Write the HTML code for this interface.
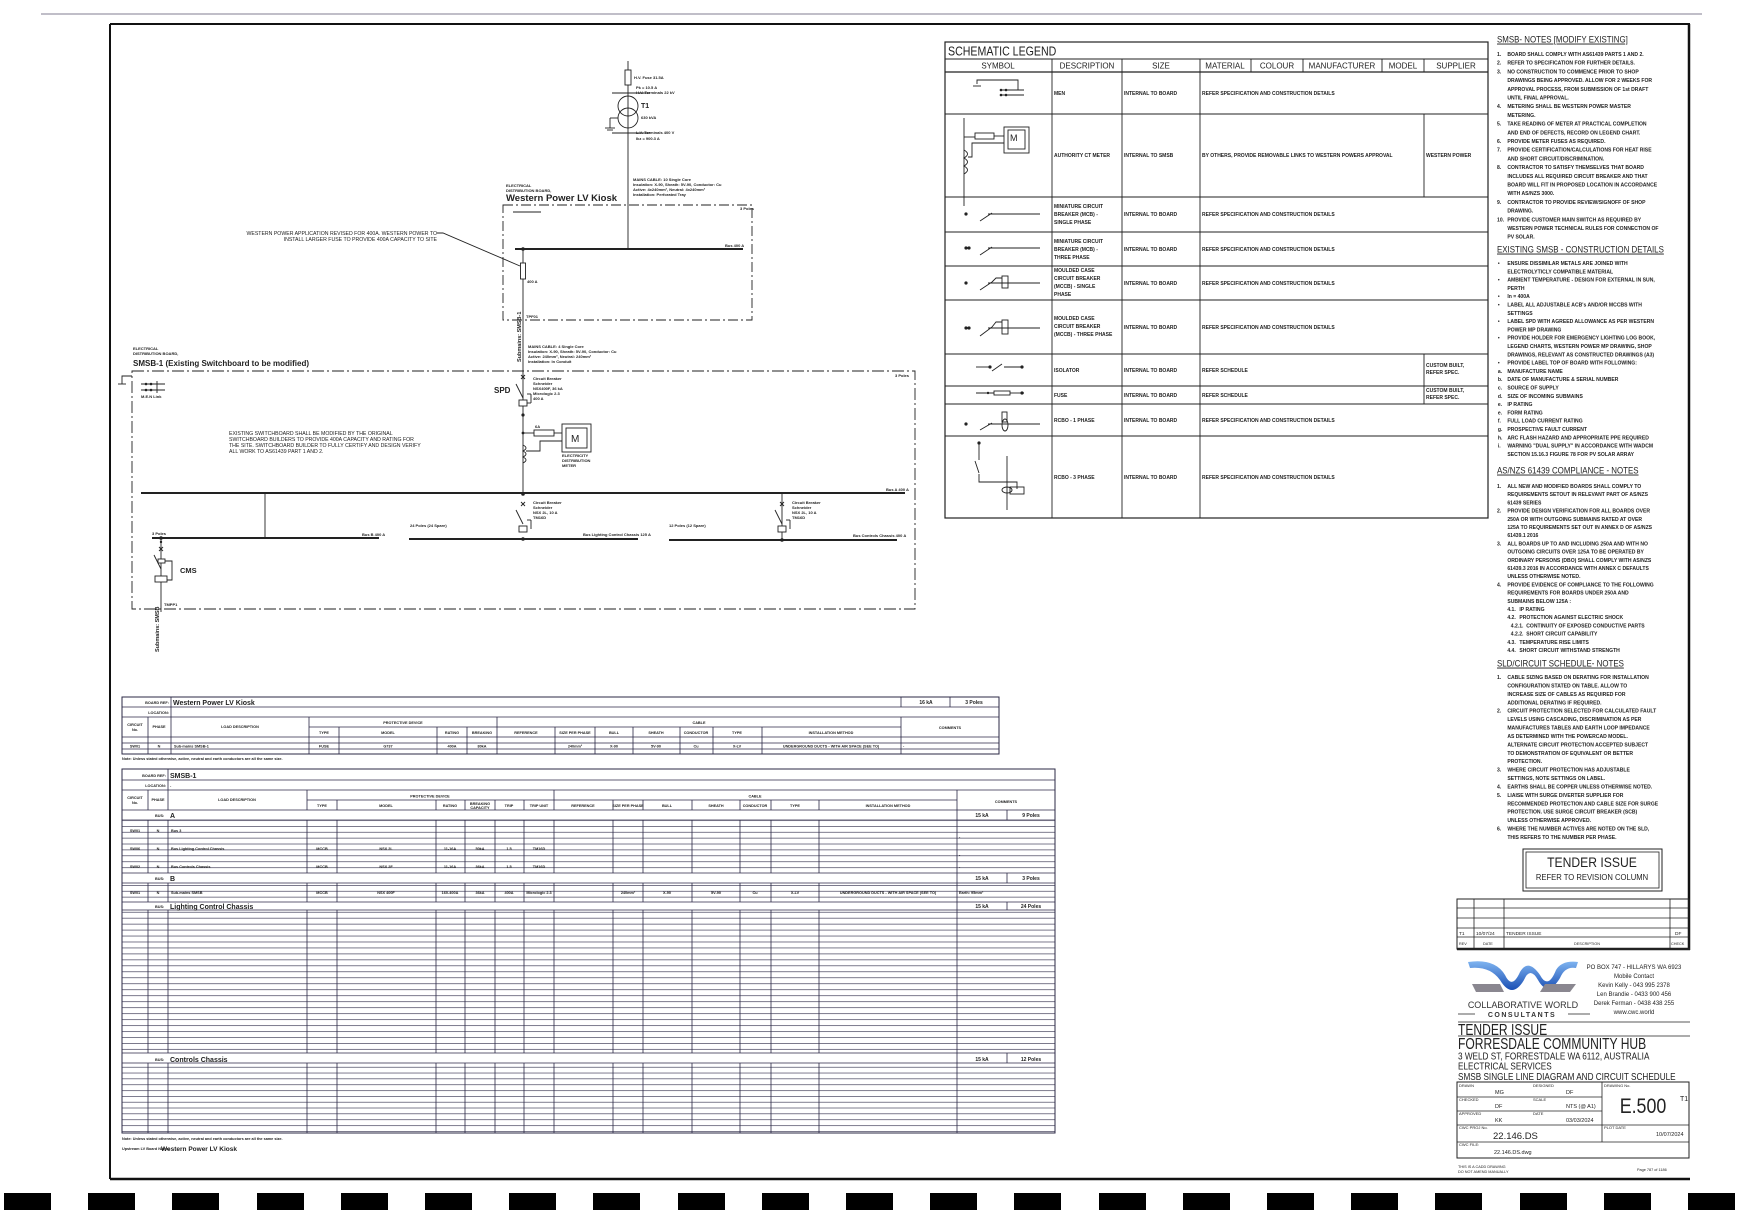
<!DOCTYPE html>
<html><head><meta charset="utf-8">
<style>
html,body{margin:0;padding:0;background:#fff;}
svg{display:block;font-family:"Liberation Sans",sans-serif;}
</style></head>
<body>
<svg width="1742" height="1219" viewBox="0 0 1742 1219" xmlns="http://www.w3.org/2000/svg">
<defs>
<pattern id="rA" patternUnits="userSpaceOnUse" width="1742" height="5.9" y="0">
<line x1="0" y1="0.3" x2="1742" y2="0.3" stroke="#2b2846" stroke-width="0.7"/>
</pattern>
<pattern id="rL" patternUnits="userSpaceOnUse" width="1742" height="5.96" y="0">
<line x1="0" y1="0.3" x2="1742" y2="0.3" stroke="#2b2846" stroke-width="0.7"/>
<rect x="31" y="1.8" width="3" height="2.6" fill="#555"/>
<rect x="50" y="1.8" width="9" height="2.6" fill="#666"/>
</pattern>
<pattern id="rC" patternUnits="userSpaceOnUse" width="1742" height="5.83" y="0">
<line x1="0" y1="0.3" x2="1742" y2="0.3" stroke="#2b2846" stroke-width="0.7"/>
<rect x="31" y="1.8" width="3" height="2.5" fill="#555"/>
<rect x="50" y="1.8" width="9" height="2.5" fill="#666"/>
</pattern>
<linearGradient id="lg" x1="0" y1="0" x2="0" y2="1"><stop offset="0" stop-color="#7fb4f0"/><stop offset="1" stop-color="#1a4fb5"/></linearGradient>
</defs>

<line x1="41" y1="14" x2="1702" y2="14" stroke="#9a98a8" stroke-width="1.2"/>

<g stroke="#111" fill="none">
<line x1="110" y1="24" x2="1690" y2="24" stroke-width="2"/>
<line x1="110" y1="24" x2="110" y2="1179" stroke-width="2"/>
<line x1="1689" y1="24" x2="1689" y2="950" stroke-width="2.5"/>
<line x1="110" y1="1179" x2="1690" y2="1179" stroke-width="2.5"/>
</g>

<g fill="#000">
<rect x="4" y="1193" width="47" height="17"/><rect x="88" y="1193" width="47" height="17"/><rect x="172" y="1193" width="47" height="17"/><rect x="257" y="1193" width="47" height="17"/><rect x="341" y="1193" width="47" height="17"/><rect x="425" y="1193" width="47" height="17"/><rect x="509" y="1193" width="47" height="17"/><rect x="593" y="1193" width="47" height="17"/><rect x="678" y="1193" width="47" height="17"/><rect x="762" y="1193" width="47" height="17"/><rect x="846" y="1193" width="47" height="17"/><rect x="930" y="1193" width="47" height="17"/><rect x="1014" y="1193" width="47" height="17"/><rect x="1099" y="1193" width="47" height="17"/><rect x="1183" y="1193" width="47" height="17"/><rect x="1267" y="1193" width="47" height="17"/><rect x="1351" y="1193" width="47" height="17"/><rect x="1435" y="1193" width="47" height="17"/><rect x="1520" y="1193" width="47" height="17"/><rect x="1604" y="1193" width="47" height="17"/><rect x="1688" y="1193" width="47" height="17"/>
</g>

<!-- SLD -->
<g stroke="#222" fill="none" stroke-width="0.9">
<line x1="628" y1="61" x2="628" y2="249"/>
<rect x="625" y="70" width="6" height="15" fill="#fff"/>
<line x1="612" y1="93" x2="650" y2="93"/>
<circle cx="628" cy="106" r="10" fill="none"/>
<circle cx="628" cy="118" r="10" fill="none"/>
<line x1="618" y1="118" x2="610" y2="118"/><line x1="610" y1="118" x2="610" y2="128"/>
<line x1="605" y1="128" x2="615" y2="128"/><line x1="607" y1="130" x2="613" y2="130"/>
<line x1="612" y1="133" x2="650" y2="133"/>
<rect x="503" y="205" width="249" height="115" stroke-dasharray="10 3 2 3"/>
<line x1="515" y1="249" x2="743" y2="249" stroke-width="2"/>
<line x1="513" y1="212" x2="541" y2="212"/>
<line x1="523" y1="249" x2="523" y2="494"/>
<rect x="520.5" y="263" width="5" height="16" fill="#fff"/>
<polyline points="437,233 443,233 520,266"/>
<rect x="132" y="371" width="783" height="238" stroke-dasharray="12 3 2 3"/>
<line x1="141" y1="493" x2="905" y2="493" stroke-width="2"/>
<line x1="265" y1="493" x2="265" y2="538"/>
<line x1="152" y1="538" x2="379" y2="538" stroke-width="2"/>
<line x1="409" y1="539" x2="638" y2="539" stroke-width="2"/>
<line x1="669" y1="540" x2="897" y2="540" stroke-width="2"/>
<line x1="521" y1="375" x2="525" y2="379"/><line x1="525" y1="375" x2="521" y2="379"/>
<line x1="516" y1="384" x2="523" y2="398"/>
<rect x="519" y="400" width="8" height="6" fill="#fff"/>
<line x1="527" y1="394" x2="531" y2="394"/><line x1="531" y1="394" x2="531" y2="403"/><line x1="531" y1="403" x2="527" y2="403"/>
<line x1="523" y1="433" x2="534" y2="433"/>
<rect x="534" y="430" width="20" height="6" fill="#fff"/>
<line x1="554" y1="433" x2="562" y2="433"/>
<rect x="562" y="424" width="29" height="28"/>
<rect x="566" y="428" width="21" height="20"/>
<path d="M523 445 q6 3 0 6 q6 3 0 6 q6 3 0 6"/>
<polyline points="526,451 540,451 540,441 562,441"/>
<line x1="521" y1="502" x2="525" y2="506"/><line x1="525" y1="502" x2="521" y2="506"/>
<line x1="516" y1="510" x2="523" y2="524"/>
<rect x="519" y="526" width="8" height="6" fill="#fff"/>
<line x1="527" y1="520" x2="531" y2="520"/><line x1="531" y1="520" x2="531" y2="529"/>
<line x1="782" y1="493" x2="782" y2="540"/>
<line x1="780" y1="502" x2="784" y2="506"/><line x1="784" y1="502" x2="780" y2="506"/>
<line x1="775" y1="510" x2="782" y2="524"/>
<rect x="778" y="526" width="8" height="6" fill="#fff"/>
<line x1="786" y1="520" x2="790" y2="520"/><line x1="790" y1="520" x2="790" y2="529"/>
<line x1="161" y1="538" x2="161" y2="612"/>
<line x1="159" y1="547" x2="163" y2="551"/><line x1="163" y1="547" x2="159" y2="551"/>
<line x1="154" y1="555" x2="161" y2="569"/>
<rect x="158" y="559" width="7" height="4" fill="#fff"/>
<rect x="155" y="576" width="12" height="6" fill="#fff"/>
<polyline points="165,561 172,561 172,580 167,580"/>
<polyline points="132,376 122,376 122,384"/>
<line x1="118" y1="384" x2="126" y2="384"/>
<line x1="141" y1="384" x2="165" y2="384"/><line x1="141" y1="390" x2="165" y2="390"/>
<line x1="157" y1="381" x2="157" y2="393"/>
</g>
<g fill="#222">
<circle cx="523" cy="249" r="1.8"/><circle cx="523" cy="494" r="1.8"/><circle cx="523" cy="539" r="1.8"/>
<circle cx="523" cy="415" r="1.6"/><circle cx="523" cy="433" r="1.4"/><circle cx="782" cy="540" r="1.8"/>
<circle cx="161" cy="538" r="1.8"/><circle cx="161" cy="542" r="1.2"/>
<circle cx="146" cy="384" r="1.3"/><circle cx="151" cy="384" r="1.3"/><circle cx="146" cy="390" r="1.3"/><circle cx="151" cy="390" r="1.3"/>
</g>
<g font-size="4" fill="#222" font-weight="bold">
<text x="634" y="79">H.V. Fuse 31.5A</text>
<text x="636" y="89">Pk = 10.5 A</text>
<text x="636" y="94">H.V. Terminals 22 kV</text>
<text x="641" y="108" font-size="7">T1</text>
<text x="641" y="119">630 kVA</text>
<text x="636" y="134">L.V. Terminals 400 V</text>
<text x="636" y="140">Ikz = 900.3 A</text>
<text x="633" y="181">MAINS CABLE: 10 Single Core</text>
<text x="633" y="186">Insulation: X-90, Sheath: 5V-90, Conductor: Cu</text>
<text x="633" y="191">Active: 4x240mm², Neutral: 4x240mm²</text>
<text x="633" y="196">Installation: Perforated Tray</text>
<text x="506" y="187">ELECTRICAL</text>
<text x="506" y="192">DISTRIBUTION BOARD,</text>
<text x="740" y="210">3 Poles</text>
<text x="725" y="247">Bus 400 A</text>
<text x="527" y="283">400 A</text>
<text x="526" y="318">TPF01</text>
<text x="528" y="348">MAINS CABLE: 4 Single Core</text>
<text x="528" y="353">Insulation: X-90, Sheath: 5V-90, Conductor: Cu</text>
<text x="528" y="358">Active: 240mm², Neutral: 240mm²</text>
<text x="528" y="363">Installation: In Conduit</text>
<text x="133" y="350">ELECTRICAL</text>
<text x="133" y="355">DISTRIBUTION BOARD,</text>
<text x="895" y="377">3 Poles</text>
<text x="533" y="380">Circuit Breaker</text>
<text x="533" y="385">Schneider</text>
<text x="533" y="390">NSX400F, 36 kA</text>
<text x="533" y="395">Micrologic 2.3</text>
<text x="533" y="400">400 A</text>
<text x="535" y="428">6A</text>
<text x="562" y="457">ELECTRICITY</text>
<text x="562" y="462">DISTRIBUTION</text>
<text x="562" y="467">METER</text>
<text x="886" y="491">Bus A 400 A</text>
<text x="533" y="504">Circuit Breaker</text>
<text x="533" y="509">Schneider</text>
<text x="533" y="514">NSX 2L, 10 A</text>
<text x="533" y="519">TM16D</text>
<text x="792" y="504">Circuit Breaker</text>
<text x="792" y="509">Schneider</text>
<text x="792" y="514">NSX 2L, 10 A</text>
<text x="792" y="519">TM16D</text>
<text x="410" y="527">24 Poles (24 Spare)</text>
<text x="669" y="527">12 Poles (12 Spare)</text>
<text x="362" y="536">Bus B 400 A</text>
<text x="583" y="536">Bus Lighting Control Chassis 125 A</text>
<text x="853" y="537">Bus Controls Chassis 400 A</text>
<text x="152" y="535">3 Poles</text>
<text x="164" y="606">TMPP1</text>
<text x="141" y="398">M.E.N Link</text>
</g>
<text x="506" y="201" font-size="9.5" font-weight="bold" fill="#222">Western Power LV Kiosk</text>
<text x="133" y="366" font-size="8" font-weight="bold" fill="#222">SMSB-1 (Existing Switchboard to be modified)</text>
<text x="494" y="393" font-size="8" font-weight="bold" fill="#222">SPD</text>
<text x="180" y="573" font-size="7.5" font-weight="bold" fill="#222">CMS</text>
<text x="571" y="442" font-size="10" fill="#222">M</text>
<text transform="translate(521,362) rotate(-90)" font-size="5.5" font-weight="bold" fill="#222">Submains: SMSB-1</text>
<text transform="translate(159,652) rotate(-90)" font-size="5.5" font-weight="bold" fill="#222">Submains: SMSB</text>
<g font-size="5.2" fill="#222">
<text x="437" y="235" text-anchor="end">WESTERN POWER APPLICATION REVISED FOR 400A. WESTERN POWER TO</text>
<text x="437" y="241" text-anchor="end">INSTALL LARGER FUSE TO PROVIDE 400A CAPACITY TO SITE</text>
<text x="229" y="435">EXISTING SWITCHBOARD SHALL BE MODIFIED BY THE ORIGINAL</text>
<text x="229" y="441">SWITCHBOARD BUILDERS TO PROVIDE 400A CAPACITY AND RATING FOR</text>
<text x="229" y="447">THE SITE. SWITCHBOARD BUILDER TO FULLY CERTIFY AND DESIGN VERIFY</text>
<text x="229" y="453">ALL WORK TO AS61439 PART 1 AND 2.</text>
</g>

<!-- LEGEND -->
<g stroke="#222" fill="none" stroke-width="0.9">
<rect x="945" y="42" width="543" height="476" stroke-width="1.2"/>
<line x1="945" y1="59" x2="1488" y2="59"/>
<line x1="945" y1="72" x2="1488" y2="72" stroke-width="1.2"/>
<line x1="945" y1="114" x2="1488" y2="114"/>
<line x1="945" y1="197" x2="1488" y2="197"/>
<line x1="945" y1="232" x2="1488" y2="232"/>
<line x1="945" y1="266" x2="1488" y2="266"/>
<line x1="945" y1="300" x2="1488" y2="300"/>
<line x1="945" y1="354" x2="1488" y2="354"/>
<line x1="945" y1="386" x2="1488" y2="386"/>
<line x1="945" y1="404" x2="1488" y2="404"/>
<line x1="945" y1="436" x2="1488" y2="436"/>
<line x1="1052" y1="59" x2="1052" y2="518"/>
<line x1="1122" y1="59" x2="1122" y2="518"/>
<line x1="1200" y1="59" x2="1200" y2="518"/>
<line x1="1251" y1="59" x2="1251" y2="72"/>
<line x1="1303" y1="59" x2="1303" y2="72"/>
<line x1="1382" y1="59" x2="1382" y2="72"/>
<line x1="1424" y1="59" x2="1424" y2="72"/>
<line x1="1424" y1="114" x2="1424" y2="197"/>
<line x1="1424" y1="354" x2="1424" y2="404"/>
<polyline points="977,84 977,80 1018,80 1018,90"/>
<line x1="973" y1="86" x2="981" y2="86"/>
<line x1="1000" y1="90" x2="1024" y2="90"/><line x1="1000" y1="95" x2="1024" y2="95"/>
<line x1="964" y1="118" x2="964" y2="206"/>
<polyline points="964,137 975,137"/><rect x="975" y="133" width="19" height="6"/><line x1="994" y1="136" x2="1004" y2="136"/>
<rect x="1004" y="127" width="25" height="26"/><rect x="1008" y="130" width="17" height="19"/>
<path d="M964 150 q7 4 0 8 q7 4 0 8 q7 4 0 8"/>
<polyline points="968,157 972,157 972,143 1004,143"/>
<line x1="988" y1="214" x2="1040" y2="214"/><line x1="980" y1="221" x2="992" y2="213"/>
<line x1="988" y1="248" x2="1040" y2="248"/><line x1="980" y1="255" x2="992" y2="247"/>
<line x1="988" y1="283" x2="1040" y2="283"/><line x1="980" y1="290" x2="992" y2="282"/><rect x="1002" y="276" width="6" height="12"/><polyline points="992,282 996,278 1002,278"/>
<line x1="988" y1="328" x2="1040" y2="328"/><line x1="980" y1="336" x2="992" y2="327"/><rect x="1002" y="320" width="6" height="14"/><polyline points="992,327 996,322 1002,322"/>
<line x1="976" y1="367" x2="990" y2="367"/><line x1="992" y1="371" x2="1002" y2="364"/><line x1="1004" y1="367" x2="1022" y2="367"/>
<line x1="976" y1="393" x2="994" y2="393"/><rect x="994" y="391" width="16" height="4"/><line x1="1010" y1="393" x2="1024" y2="393"/>
<line x1="988" y1="424" x2="1040" y2="424"/><line x1="980" y1="430" x2="992" y2="423"/><rect x="1002" y="412" width="5" height="10"/><ellipse cx="1005" cy="425" rx="3" ry="6"/>
<line x1="979" y1="443" x2="979" y2="460"/><line x1="975" y1="461" x2="979" y2="473"/><line x1="1007" y1="456" x2="1007" y2="510"/>
<polyline points="979,474 979,482 1017,482 1017,489"/><rect x="1010" y="487" width="14" height="7"/><ellipse cx="1007" cy="490" rx="5" ry="3"/>
</g>
<g fill="#222">
<circle cx="1001" cy="90" r="1.3"/><circle cx="1006" cy="90" r="1.3"/><circle cx="1001" cy="95" r="1.3"/><circle cx="1006" cy="95" r="1.3"/>
<circle cx="966" cy="214" r="1.6"/><circle cx="966" cy="248" r="1.6"/><circle cx="969" cy="248" r="1.6"/>
<circle cx="966" cy="283" r="1.6"/><circle cx="966" cy="328" r="1.6"/><circle cx="969" cy="328" r="1.6"/>
<circle cx="990" cy="367" r="1.6"/><circle cx="1022" cy="367" r="1.6"/><circle cx="1022" cy="393" r="1.6"/><circle cx="988" cy="393" r="1.2"/>
<circle cx="966" cy="424" r="1.6"/><circle cx="979" cy="443" r="1.6"/>
</g>
<g fill="#222">
<text x="948" y="55.5" font-size="12.5" transform="translate(948 0) scale(0.85 1) translate(-948 0)">SCHEMATIC LEGEND</text>
<g font-size="8">
<text x="998" y="68.5" text-anchor="middle">SYMBOL</text>
<text x="1087" y="68.5" text-anchor="middle">DESCRIPTION</text>
<text x="1161" y="68.5" text-anchor="middle">SIZE</text>
<text x="1225" y="68.5" text-anchor="middle">MATERIAL</text>
<text x="1277" y="68.5" text-anchor="middle">COLOUR</text>
<text x="1342" y="68.5" text-anchor="middle">MANUFACTURER</text>
<text x="1403" y="68.5" text-anchor="middle">MODEL</text>
<text x="1456" y="68.5" text-anchor="middle">SUPPLIER</text>
</g>
<g font-size="5" font-weight="bold">
<text x="1054" y="95">MEN</text><text x="1124" y="95">INTERNAL TO BOARD</text><text x="1202" y="95">REFER SPECIFICATION AND CONSTRUCTION DETAILS</text>
<text x="1054" y="157">AUTHORITY CT METER</text><text x="1124" y="157">INTERNAL TO SMSB</text><text x="1202" y="157">BY OTHERS, PROVIDE REMOVABLE LINKS TO WESTERN POWERS APPROVAL</text><text x="1426" y="157">WESTERN POWER</text>
<text x="1054" y="208">MINIATURE CIRCUIT</text><text x="1054" y="216">BREAKER (MCB)   -</text><text x="1054" y="224">SINGLE PHASE</text>
<text x="1124" y="216">INTERNAL TO BOARD</text><text x="1202" y="216">REFER SPECIFICATION AND CONSTRUCTION DETAILS</text>
<text x="1054" y="243">MINIATURE CIRCUIT</text><text x="1054" y="251">BREAKER (MCB)   -</text><text x="1054" y="259">THREE PHASE</text>
<text x="1124" y="251">INTERNAL TO BOARD</text><text x="1202" y="251">REFER SPECIFICATION AND CONSTRUCTION DETAILS</text>
<text x="1054" y="272">MOULDED CASE</text><text x="1054" y="280">CIRCUIT BREAKER</text><text x="1054" y="288">(MCCB) - SINGLE</text><text x="1054" y="296">PHASE</text>
<text x="1124" y="285">INTERNAL TO BOARD</text><text x="1202" y="285">REFER SPECIFICATION AND CONSTRUCTION DETAILS</text>
<text x="1054" y="320">MOULDED CASE</text><text x="1054" y="328">CIRCUIT BREAKER</text><text x="1054" y="336">(MCCB) - THREE PHASE</text>
<text x="1124" y="329">INTERNAL TO BOARD</text><text x="1202" y="329">REFER SPECIFICATION AND CONSTRUCTION DETAILS</text>
<text x="1054" y="372">ISOLATOR</text><text x="1124" y="372">INTERNAL TO BOARD</text><text x="1202" y="372">REFER SCHEDULE</text><text x="1426" y="367">CUSTOM BUILT,</text><text x="1426" y="374">REFER SPEC.</text>
<text x="1054" y="397">FUSE</text><text x="1124" y="397">INTERNAL TO BOARD</text><text x="1202" y="397">REFER SCHEDULE</text><text x="1426" y="392">CUSTOM BUILT,</text><text x="1426" y="399">REFER SPEC.</text>
<text x="1054" y="422">RCBO - 1 PHASE</text><text x="1124" y="422">INTERNAL TO BOARD</text><text x="1202" y="422">REFER SPECIFICATION AND CONSTRUCTION DETAILS</text>
<text x="1054" y="479">RCBO - 3 PHASE</text><text x="1124" y="479">INTERNAL TO BOARD</text><text x="1202" y="479">REFER SPECIFICATION AND CONSTRUCTION DETAILS</text>
</g>
<text x="1010" y="141" font-size="9">M</text>
</g>

<!-- NOTES -->
<g fill="#222" transform="translate(1497 0) scale(0.86 1)">
<g font-size="9.2">
<text x="0" y="42.5" text-decoration="underline">SMSB- NOTES [MODIFY EXISTING]</text>
<text x="0" y="252.5" text-decoration="underline">EXISTING SMSB - CONSTRUCTION DETAILS</text>
<text x="0" y="473.5" text-decoration="underline">AS/NZS 61439 COMPLIANCE - NOTES</text>
<text x="0" y="666.5" text-decoration="underline">SLD/CIRCUIT SCHEDULE- NOTES</text>
</g>
<g font-size="5.9" font-weight="bold">
<text x="0" y="56">1.</text><text x="12" y="56">BOARD SHALL COMPLY WITH AS61439 PARTS 1 AND 2.</text>
<text x="0" y="64.7">2.</text><text x="12" y="64.7">REFER TO SPECIFICATION FOR FURTHER DETAILS.</text>
<text x="0" y="73.4">3.</text><text x="12" y="73.4">NO CONSTRUCTION TO COMMENCE PRIOR TO SHOP</text>
<text x="12" y="82.1">DRAWINGS BEING APPROVED. ALLOW FOR 2 WEEKS FOR</text>
<text x="12" y="90.8">APPROVAL PROCESS, FROM SUBMISSION OF 1st DRAFT</text>
<text x="12" y="99.5">UNTIL FINAL APPROVAL.</text>
<text x="0" y="108.2">4.</text><text x="12" y="108.2">METERING SHALL BE WESTERN POWER MASTER</text>
<text x="12" y="116.9">METERING.</text>
<text x="0" y="125.6">5.</text><text x="12" y="125.6">TAKE READING OF METER AT PRACTICAL COMPLETION</text>
<text x="12" y="134.3">AND END OF DEFECTS, RECORD ON LEGEND CHART.</text>
<text x="0" y="143">6.</text><text x="12" y="143">PROVIDE METER FUSES AS REQUIRED.</text>
<text x="0" y="151.7">7.</text><text x="12" y="151.7">PROVIDE CERTIFICATION/CALCULATIONS FOR HEAT RISE</text>
<text x="12" y="160.4">AND SHORT CIRCUIT/DISCRIMINATION.</text>
<text x="0" y="169.1">8.</text><text x="12" y="169.1">CONTRACTOR TO SATISFY THEMSELVES THAT BOARD</text>
<text x="12" y="177.8">INCLUDES ALL REQUIRED CIRCUIT BREAKER AND THAT</text>
<text x="12" y="186.5">BOARD WILL FIT IN PROPOSED LOCATION IN ACCORDANCE</text>
<text x="12" y="195.2">WITH AS/NZS 3000.</text>
<text x="0" y="203.9">9.</text><text x="12" y="203.9">CONTRACTOR TO PROVIDE REVIEW/SIGNOFF OF SHOP</text>
<text x="12" y="212.6">DRAWING.</text>
<text x="0" y="221.3">10.</text><text x="12" y="221.3">PROVIDE CUSTOMER MAIN SWITCH AS REQUIRED BY</text>
<text x="12" y="230">WESTERN POWER TECHNICAL RULES FOR CONNECTION OF</text>
<text x="12" y="238.7">PV SOLAR.</text>

<text x="1" y="265">•</text><text x="12" y="265">ENSURE DISSIMILAR METALS ARE JOINED WITH</text>
<text x="12" y="273.3">ELECTROLYTICLY COMPATIBLE MATERIAL</text>
<text x="1" y="281.6">•</text><text x="12" y="281.6">AMBIENT TEMPERATURE - DESIGN FOR EXTERNAL IN SUN,</text>
<text x="12" y="289.9">PERTH</text>
<text x="1" y="298.2">•</text><text x="12" y="298.2">In = 400A</text>
<text x="1" y="306.5">•</text><text x="12" y="306.5">LABEL ALL ADJUSTABLE ACB's AND/OR MCCBS WITH</text>
<text x="12" y="314.8">SETTINGS</text>
<text x="1" y="323.1">•</text><text x="12" y="323.1">LABEL SPD WITH AGREED ALLOWANCE AS PER WESTERN</text>
<text x="12" y="331.4">POWER MP DRAWING</text>
<text x="1" y="339.7">•</text><text x="12" y="339.7">PROVIDE HOLDER FOR EMERGENCY LIGHTING LOG BOOK,</text>
<text x="12" y="348">LEGEND CHARTS, WESTERN POWER MP DRAWING, SHOP</text>
<text x="12" y="356.3">DRAWINGS, RELEVANT AS CONSTRUCTED DRAWINGS (A3)</text>
<text x="1" y="364.6">•</text><text x="12" y="364.6">PROVIDE LABEL TOP OF BOARD WITH FOLLOWING:</text>
<text x="1" y="372.9">a.</text><text x="12" y="372.9">MANUFACTURE NAME</text>
<text x="1" y="381.2">b.</text><text x="12" y="381.2">DATE OF MANUFACTURE &amp; SERIAL NUMBER</text>
<text x="1" y="389.5">c.</text><text x="12" y="389.5">SOURCE OF SUPPLY</text>
<text x="1" y="397.8">d.</text><text x="12" y="397.8">SIZE OF INCOMING SUBMAINS</text>
<text x="1" y="406.1">e.</text><text x="12" y="406.1">IP RATING</text>
<text x="1" y="414.4">e.</text><text x="12" y="414.4">FORM RATING</text>
<text x="1" y="422.7">f.</text><text x="12" y="422.7">FULL LOAD CURRENT RATING</text>
<text x="1" y="431">g.</text><text x="12" y="431">PROSPECTIVE FAULT CURRENT</text>
<text x="1" y="439.3">h.</text><text x="12" y="439.3">ARC FLASH HAZARD AND APPROPRIATE PPE REQUIRED</text>
<text x="1" y="447.6">i.</text><text x="12" y="447.6">WARNING "DUAL SUPPLY" IN ACCORDANCE WITH WADCM</text>
<text x="12" y="455.9">SECTION 15.16.3 FIGURE 78 FOR PV SOLAR ARRAY</text>

<text x="0" y="488">1.</text><text x="12" y="488">ALL NEW AND MODIFIED BOARDS SHALL COMPLY TO</text>
<text x="12" y="496.2">REQUIREMENTS SETOUT IN RELEVANT PART OF AS/NZS</text>
<text x="12" y="504.4">61439 SERIES</text>
<text x="0" y="512.6">2.</text><text x="12" y="512.6">PROVIDE DESIGN VERIFICATION FOR ALL BOARDS OVER</text>
<text x="12" y="520.8">250A OR WITH OUTGOING SUBMAINS RATED AT OVER</text>
<text x="12" y="529">125A TO REQUIREMENTS SET OUT IN ANNEX D OF AS/NZS</text>
<text x="12" y="537.2">61439.1 2016</text>
<text x="0" y="545.4">3.</text><text x="12" y="545.4">ALL BOARDS UP TO AND INCLUDING 250A AND WITH NO</text>
<text x="12" y="553.6">OUTGOING CIRCUITS OVER 125A TO BE OPERATED BY</text>
<text x="12" y="561.8">ORDINARY PERSONS (DBO) SHALL COMPLY WITH AS/NZS</text>
<text x="12" y="570">61439.3 2016 IN ACCORDANCE WITH ANNEX C DEFAULTS</text>
<text x="12" y="578.2">UNLESS OTHERWISE NOTED.</text>
<text x="0" y="586.4">4.</text><text x="12" y="586.4">PROVIDE EVIDENCE OF COMPLIANCE TO THE FOLLOWING</text>
<text x="12" y="594.6">REQUIREMENTS FOR BOARDS UNDER 250A AND</text>
<text x="12" y="602.8">SUBMAINS BELOW 125A :</text>
<text x="12" y="611">4.1.</text><text x="26" y="611">IP RATING</text>
<text x="12" y="619.2">4.2.</text><text x="26" y="619.2">PROTECTION AGAINST ELECTRIC SHOCK</text>
<text x="16" y="627.4">4.2.1.</text><text x="34" y="627.4">CONTINUITY OF EXPOSED CONDUCTIVE PARTS</text>
<text x="16" y="635.6">4.2.2.</text><text x="34" y="635.6">SHORT CIRCUIT CAPABILITY</text>
<text x="12" y="643.8">4.3.</text><text x="26" y="643.8">TEMPERATURE RISE LIMITS</text>
<text x="12" y="652">4.4.</text><text x="26" y="652">SHORT CIRCUIT WITHSTAND STRENGTH</text>

<text x="0" y="679">1.</text><text x="12" y="679">CABLE SIZING BASED ON DERATING FOR INSTALLATION</text>
<text x="12" y="687.4">CONFIGURATION STATED ON TABLE. ALLOW TO</text>
<text x="12" y="695.8">INCREASE SIZE OF CABLES AS REQUIRED FOR</text>
<text x="12" y="704.3">ADDITIONAL DERATING IF REQUIRED.</text>
<text x="0" y="712.7">2.</text><text x="12" y="712.7">CIRCUIT PROTECTION SELECTED FOR CALCULATED FAULT</text>
<text x="12" y="721.1">LEVELS USING CASCADING, DISCRIMINATION AS PER</text>
<text x="12" y="729.5">MANUFACTURES TABLES AND EARTH LOOP IMPEDANCE</text>
<text x="12" y="737.9">AS DETERMINED WITH THE POWERCAD MODEL.</text>
<text x="12" y="746.4">ALTERNATE CIRCUIT PROTECTION ACCEPTED SUBJECT</text>
<text x="12" y="754.8">TO DEMONSTRATION OF EQUIVALENT OR BETTER</text>
<text x="12" y="763.2">PROTECTION.</text>
<text x="0" y="771.6">3.</text><text x="12" y="771.6">WHERE CIRCUIT PROTECTION HAS ADJUSTABLE</text>
<text x="12" y="780">SETTINGS, NOTE SETTINGS ON LABEL.</text>
<text x="0" y="788.5">4.</text><text x="12" y="788.5">EARTHS SHALL BE COPPER UNLESS OTHERWISE NOTED.</text>
<text x="0" y="796.9">5.</text><text x="12" y="796.9">LIAISE WITH SURGE DIVERTER SUPPLIER FOR</text>
<text x="12" y="805.3">RECOMMENDED PROTECTION AND CABLE SIZE FOR SURGE</text>
<text x="12" y="813.7">PROTECTION. USE SURGE CIRCUIT BREAKER (SCB)</text>
<text x="12" y="822.1">UNLESS OTHERWISE APPROVED.</text>
<text x="0" y="830.6">6.</text><text x="12" y="830.6">WHERE THE NUMBER ACTIVES ARE NOTED ON THE SLD,</text>
<text x="12" y="839">THIS REFERS TO THE NUMBER PER PHASE.</text>
</g>
</g>

<!-- TITLE BLOCK -->
<g stroke="#222" fill="none">
<rect x="1523" y="849" width="139" height="42" stroke-width="1"/>
<rect x="1526" y="852" width="133" height="36" stroke-width="0.8"/>
<rect x="1457" y="899" width="232" height="50" stroke-width="1"/>
<line x1="1457" y1="908" x2="1689" y2="908" stroke-width="0.8"/>
<line x1="1457" y1="918" x2="1689" y2="918" stroke-width="0.8"/>
<line x1="1457" y1="928" x2="1689" y2="928" stroke-width="0.8"/>
<line x1="1457" y1="937" x2="1689" y2="937" stroke-width="0.8"/>
<line x1="1457" y1="949" x2="1690" y2="949" stroke-width="2.5"/>
<line x1="1474" y1="899" x2="1474" y2="949" stroke-width="0.8"/>
<line x1="1504" y1="899" x2="1504" y2="949" stroke-width="0.8"/>
<line x1="1670" y1="899" x2="1670" y2="949" stroke-width="0.8"/>
<line x1="1458" y1="1014" x2="1475" y2="1014" stroke-width="0.8"/>
<line x1="1568" y1="1014" x2="1590" y2="1014" stroke-width="0.8"/>
<line x1="1458" y1="1022" x2="1690" y2="1022" stroke-width="0.8"/>
<line x1="1458" y1="1036" x2="1690" y2="1036" stroke-width="0.8"/>
<rect x="1457" y="1082" width="232" height="76" stroke-width="1"/>
<line x1="1457" y1="1097" x2="1602" y2="1097" stroke-width="0.8"/>
<line x1="1457" y1="1111" x2="1602" y2="1111" stroke-width="0.8"/>
<line x1="1457" y1="1125" x2="1689" y2="1125" stroke-width="0.8"/>
<line x1="1457" y1="1142" x2="1689" y2="1142" stroke-width="0.8"/>
<line x1="1602" y1="1082" x2="1602" y2="1142" stroke-width="0.8"/>
</g>
<path d="M1468 962 Q1495 958 1505 975 Q1512 990 1520 972 Q1528 958 1540 975 Q1548 990 1556 970 Q1562 960 1578 962 L1576 968 Q1565 966 1560 978 Q1548 998 1538 980 Q1530 966 1524 980 Q1512 1000 1500 980 Q1490 966 1470 968 Z" fill="url(#lg)"/>
<path d="M1472 984 L1500 984 L1504 992 L1476 992 Z" fill="#8a8790"/>
<path d="M1545 984 L1576 984 L1570 992 L1540 992 Z" fill="#8a8790"/>
<g fill="#222">
<text x="1592" y="867" font-size="13.5" text-anchor="middle" transform="translate(1592 0) scale(0.9 1) translate(-1592 0)">TENDER ISSUE</text>
<text x="1592" y="880" font-size="8.5" text-anchor="middle" transform="translate(1592 0) scale(0.9 1) translate(-1592 0)">REFER TO REVISION COLUMN</text>
<g font-size="4.8">
<text x="1459" y="935">T1</text><text x="1476" y="935">10/07/24</text><text x="1506" y="935">TENDER ISSUE</text><text x="1675" y="935">DF</text>
<text x="1459" y="945" font-size="3.8">REV</text><text x="1483" y="945" font-size="3.8">DATE</text><text x="1587" y="945" font-size="3.8" text-anchor="middle">DESCRIPTION</text><text x="1671" y="945" font-size="3.8">CHECK</text>
</g>
<g font-size="6" text-anchor="middle">
<text x="1634" y="969">PO BOX 747 - HILLARYS WA 6923</text>
<text x="1634" y="978">Mobile Contact</text>
<text x="1634" y="987">Kevin Kelly - 043 995 2378</text>
<text x="1634" y="996">Len Brandie - 0433 900 456</text>
<text x="1634" y="1005">Derek Ferman - 0438 438 255</text>
<text x="1634" y="1014">www.cwc.world</text>
</g>
<text x="1523" y="1008" font-size="9" text-anchor="middle" fill="#333">COLLABORATIVE WORLD</text>
<text x="1522" y="1017" font-size="7" text-anchor="middle" letter-spacing="1.5" font-weight="bold" fill="#333">CONSULTANTS</text>
<g transform="translate(1458 0) scale(0.78 1)">
<text x="0" y="1035" font-size="15.5">TENDER ISSUE</text>
<text x="0" y="1049" font-size="15.5">FORRESDALE COMMUNITY HUB</text>
<text x="0" y="1059.5" font-size="10.5">3 WELD ST, FORRESTDALE WA 6112, AUSTRALIA</text>
<text x="0" y="1069.5" font-size="10.5">ELECTRICAL SERVICES</text>
<text x="0" y="1080" font-size="10.5">SMSB SINGLE LINE DIAGRAM AND CIRCUIT SCHEDULE</text>
</g>
<g font-size="4">
<text x="1459" y="1087">DRAWN</text><text x="1533" y="1087">DESIGNED</text><text x="1604" y="1087">DRAWING No.</text>
<text x="1459" y="1101">CHECKED</text><text x="1533" y="1101">SCALE</text>
<text x="1459" y="1115">APPROVED</text><text x="1533" y="1115">DATE</text>
<text x="1459" y="1129">CWC PROJ No.</text><text x="1604" y="1129">PLOT DATE</text>
<text x="1459" y="1146">CWC FILE:</text>
</g>
<g font-size="5.5">
<text x="1495" y="1094">MG</text><text x="1566" y="1094">DF</text>
<text x="1495" y="1108">DF</text><text x="1566" y="1108">NTS (@ A1)</text>
<text x="1495" y="1122">KK</text><text x="1566" y="1122">03/03/2024</text>
<text x="1656" y="1136">10/07/2024</text>
<text x="1494" y="1154">22.146.DS.dwg</text>
</g>
<text x="1493" y="1139" font-size="9.5">22.146.DS</text>
<text x="1643" y="1113" font-size="21" text-anchor="middle" transform="translate(1643 0) scale(0.85 1) translate(-1643 0)">E.500</text>
<text x="1680" y="1101" font-size="7">T1</text>
<g font-size="3.8">
<text x="1458" y="1168">THIS IS A CADD DRAWING</text>
<text x="1458" y="1173">DO NOT AMEND MANUALLY</text>
<text x="1637" y="1171">Page 787 of 1186</text>
</g>
</g>

<!-- WP TABLE -->
<g stroke="#2b2846" fill="none" stroke-width="0.8">
<rect x="122" y="697" width="877" height="57" stroke-width="1"/>
<line x1="122" y1="707" x2="999" y2="707"/>
<line x1="122" y1="717" x2="999" y2="717"/>
<line x1="309" y1="727" x2="901" y2="727"/>
<line x1="122" y1="737" x2="999" y2="737"/>
<line x1="122" y1="743" x2="999" y2="743"/>
<line x1="122" y1="749" x2="999" y2="749"/>
<line x1="171" y1="697" x2="171" y2="717"/>
<line x1="901" y1="697" x2="901" y2="707"/><line x1="950" y1="697" x2="950" y2="707"/>
<line x1="148" y1="717" x2="148" y2="754"/><line x1="171" y1="717" x2="171" y2="754"/>
<line x1="309" y1="717" x2="309" y2="754"/><line x1="497" y1="717" x2="497" y2="754"/><line x1="901" y1="717" x2="901" y2="754"/>
<line x1="339" y1="727" x2="339" y2="754"/><line x1="437" y1="727" x2="437" y2="754"/><line x1="467" y1="727" x2="467" y2="754"/>
<line x1="555" y1="727" x2="555" y2="754"/><line x1="595" y1="727" x2="595" y2="754"/><line x1="633" y1="727" x2="633" y2="754"/>
<line x1="680" y1="727" x2="680" y2="754"/><line x1="713" y1="727" x2="713" y2="754"/><line x1="762" y1="727" x2="762" y2="754"/>
</g>
<g fill="#222" font-size="3.8" font-weight="bold">
<text x="169" y="704" text-anchor="end">BOARD REF:</text>
<text x="169" y="714" text-anchor="end">LOCATION:</text>
<text x="135" y="726" text-anchor="middle">CIRCUIT</text><text x="135" y="731" text-anchor="middle">No.</text>
<text x="159" y="728" text-anchor="middle">PHASE</text>
<text x="240" y="728" text-anchor="middle">LOAD DESCRIPTION</text>
<text x="403" y="724" text-anchor="middle">PROTECTIVE DEVICE</text>
<text x="699" y="724" text-anchor="middle">CABLE</text>
<text x="950" y="729" text-anchor="middle">COMMENTS</text>
<text x="324" y="734" text-anchor="middle">TYPE</text><text x="388" y="734" text-anchor="middle">MODEL</text><text x="452" y="734" text-anchor="middle">RATING</text><text x="482" y="734" text-anchor="middle">BREAKING</text>
<text x="526" y="734" text-anchor="middle">REFERENCE</text><text x="575" y="734" text-anchor="middle">SIZE PER PHASE</text><text x="614" y="734" text-anchor="middle">BULL</text><text x="656" y="734" text-anchor="middle">SHEATH</text><text x="696" y="734" text-anchor="middle">CONDUCTOR</text><text x="737" y="734" text-anchor="middle">TYPE</text><text x="831" y="734" text-anchor="middle">INSTALLATION METHOD</text>
<text x="135" y="747.5" text-anchor="middle">SW01</text><text x="159" y="747.5" text-anchor="middle">N</text><text x="174" y="747.5">Sub-mains SMSB-1</text>
<text x="324" y="747.5" text-anchor="middle">FUSE</text><text x="388" y="747.5" text-anchor="middle">G737</text><text x="452" y="747.5" text-anchor="middle">400A</text><text x="482" y="747.5" text-anchor="middle">80kA</text>
<text x="575" y="747.5" text-anchor="middle">240mm²</text><text x="614" y="747.5" text-anchor="middle">X-90</text><text x="656" y="747.5" text-anchor="middle">5V-90</text><text x="696" y="747.5" text-anchor="middle">Cu</text><text x="737" y="747.5" text-anchor="middle">X-LV</text><text x="831" y="747.5" text-anchor="middle">UNDERGROUND DUCTS - WITH AIR SPACE (SEE TO)</text>
<text x="903" y="747.5">-</text>
<text x="122" y="760">Note: Unless stated otherwise, active, neutral and earth conductors are all the same size.</text>
<text x="926" y="704" text-anchor="middle" font-size="5">16 kA</text><text x="974" y="704" text-anchor="middle" font-size="5">3 Poles</text>
</g>
<text x="173" y="705" font-size="7" font-weight="bold" fill="#222">Western Power LV Kiosk</text>

<!-- SMSB TABLE -->
<g fill="url(#rA)" stroke="none">
<rect x="122" y="820" width="933" height="53"/>
<rect x="122" y="883" width="933" height="19"/>
</g>
<rect x="122" y="910" width="933" height="143" fill="url(#rL)"/>
<rect x="122" y="1063" width="933" height="70" fill="url(#rC)"/>
<g stroke="#2b2846" fill="none" stroke-width="0.8">
<rect x="122" y="769" width="933" height="364" stroke-width="1"/>
<line x1="122" y1="780" x2="1055" y2="780"/>
<line x1="122" y1="790" x2="1055" y2="790"/>
<line x1="307" y1="800" x2="957" y2="800"/>
<line x1="122" y1="810" x2="1055" y2="810"/>
<line x1="122" y1="820" x2="1055" y2="820"/>
<line x1="122" y1="873" x2="1055" y2="873"/>
<line x1="122" y1="883" x2="1055" y2="883"/>
<line x1="122" y1="902" x2="1055" y2="902"/>
<line x1="122" y1="910" x2="1055" y2="910"/>
<line x1="122" y1="1053" x2="1055" y2="1053"/>
<line x1="122" y1="1063" x2="1055" y2="1063"/>
<line x1="168" y1="769" x2="168" y2="790"/>
<line x1="148" y1="790" x2="148" y2="810"/><line x1="168" y1="790" x2="168" y2="810"/>
<line x1="307" y1="790" x2="307" y2="810"/><line x1="554" y1="790" x2="554" y2="810"/><line x1="957" y1="790" x2="957" y2="820"/>
<line x1="1007" y1="810" x2="1007" y2="820"/>
<line x1="957" y1="873" x2="957" y2="883"/><line x1="1007" y1="873" x2="1007" y2="883"/>
<line x1="957" y1="902" x2="957" y2="910"/><line x1="1007" y1="902" x2="1007" y2="910"/>
<line x1="957" y1="1053" x2="957" y2="1063"/><line x1="1007" y1="1053" x2="1007" y2="1063"/>
<line x1="337" y1="800" x2="337" y2="810"/><line x1="436" y1="800" x2="436" y2="810"/><line x1="465" y1="800" x2="465" y2="810"/><line x1="495" y1="800" x2="495" y2="810"/><line x1="524" y1="800" x2="524" y2="810"/>
<line x1="613" y1="800" x2="613" y2="810"/><line x1="643" y1="800" x2="643" y2="810"/><line x1="692" y1="800" x2="692" y2="810"/><line x1="740" y1="800" x2="740" y2="810"/><line x1="771" y1="800" x2="771" y2="810"/><line x1="819" y1="800" x2="819" y2="810"/>
</g>
<g stroke="#2b2846" stroke-width="0.8">
<path d="M148 820V873M168 820V873M307 820V873M337 820V873M436 820V873M465 820V873M495 820V873M524 820V873M554 820V873M613 820V873M643 820V873M692 820V873M740 820V873M771 820V873M819 820V873M957 820V873"/>
<path d="M148 883V902M168 883V902M307 883V902M337 883V902M436 883V902M465 883V902M495 883V902M524 883V902M554 883V902M613 883V902M643 883V902M692 883V902M740 883V902M771 883V902M819 883V902M957 883V902"/>
<path d="M148 910V1053M168 910V1053M307 910V1053M337 910V1053M436 910V1053M465 910V1053M495 910V1053M524 910V1053M554 910V1053M613 910V1053M643 910V1053M692 910V1053M740 910V1053M771 910V1053M819 910V1053M957 910V1053"/>
<path d="M148 1063V1133M168 1063V1133M307 1063V1133M337 1063V1133M436 1063V1133M465 1063V1133M495 1063V1133M524 1063V1133M554 1063V1133M613 1063V1133M643 1063V1133M692 1063V1133M740 1063V1133M771 1063V1133M819 1063V1133M957 1063V1133"/>
</g>
<g fill="#222" font-size="3.8" font-weight="bold">
<text x="166" y="777" text-anchor="end">BOARD REF:</text>
<text x="166" y="787" text-anchor="end">LOCATION:</text><text x="170" y="787">-</text>
<text x="135" y="799" text-anchor="middle">CIRCUIT</text><text x="135" y="804" text-anchor="middle">No.</text>
<text x="158" y="801" text-anchor="middle">PHASE</text>
<text x="237" y="801" text-anchor="middle">LOAD DESCRIPTION</text>
<text x="430" y="797.5" text-anchor="middle">PROTECTIVE DEVICE</text>
<text x="755" y="797.5" text-anchor="middle">CABLE</text>
<text x="1006" y="803" text-anchor="middle">COMMENTS</text>
<text x="322" y="807" text-anchor="middle">TYPE</text><text x="386" y="807" text-anchor="middle">MODEL</text><text x="450" y="807" text-anchor="middle">RATING</text><text x="480" y="805" text-anchor="middle">BREAKING</text><text x="480" y="809" text-anchor="middle">CAPACITY</text><text x="509" y="807" text-anchor="middle">TRIP</text><text x="539" y="807" text-anchor="middle">TRIP UNIT</text>
<text x="583" y="807" text-anchor="middle">REFERENCE</text><text x="628" y="807" text-anchor="middle">SIZE PER PHASE</text><text x="667" y="807" text-anchor="middle">BULL</text><text x="716" y="807" text-anchor="middle">SHEATH</text><text x="755" y="807" text-anchor="middle">CONDUCTOR</text><text x="795" y="807" text-anchor="middle">TYPE</text><text x="888" y="807" text-anchor="middle">INSTALLATION METHOD</text>
<text x="155" y="817">BUS:</text><text x="155" y="880">BUS:</text><text x="155" y="908">BUS:</text><text x="155" y="1061">BUS:</text>
<text x="135" y="832" text-anchor="middle">SW01</text><text x="158" y="832" text-anchor="middle">N</text><text x="171" y="832">Bus 3</text>
<text x="135" y="850" text-anchor="middle">SW06</text><text x="158" y="850" text-anchor="middle">N</text><text x="171" y="850">Bus Lighting Control Chassis</text>
<text x="322" y="850" text-anchor="middle">MCCB</text><text x="386" y="850" text-anchor="middle">NSX 2L</text><text x="450" y="850" text-anchor="middle">11-16A</text><text x="480" y="850" text-anchor="middle">50kA</text><text x="509" y="850" text-anchor="middle">1.5</text><text x="539" y="850" text-anchor="middle">TM16D</text>
<text x="135" y="868" text-anchor="middle">SW02</text><text x="158" y="868" text-anchor="middle">N</text><text x="171" y="868">Bus Controls Chassis</text>
<text x="322" y="868" text-anchor="middle">MCCB</text><text x="386" y="868" text-anchor="middle">NSX 2F</text><text x="450" y="868" text-anchor="middle">11-16A</text><text x="480" y="868" text-anchor="middle">36kA</text><text x="509" y="868" text-anchor="middle">1.5</text><text x="539" y="868" text-anchor="middle">TM16D</text>
<text x="135" y="894" text-anchor="middle">SW01</text><text x="158" y="894" text-anchor="middle">N</text><text x="171" y="894">Sub-mains SMSB</text>
<text x="322" y="894" text-anchor="middle">MCCB</text><text x="386" y="894" text-anchor="middle">NSX 400F</text><text x="450" y="894" text-anchor="middle">160-400A</text><text x="480" y="894" text-anchor="middle">36kA</text><text x="509" y="894" text-anchor="middle">400A</text><text x="539" y="894" text-anchor="middle">Micrologic 2.3</text>
<text x="628" y="894" text-anchor="middle">240mm²</text><text x="667" y="894" text-anchor="middle">X-90</text><text x="716" y="894" text-anchor="middle">5V-90</text><text x="755" y="894" text-anchor="middle">Cu</text><text x="795" y="894" text-anchor="middle">X-LV</text><text x="888" y="894" text-anchor="middle">UNDERGROUND DUCTS - WITH AIR SPACE (SEE TO)</text><text x="959" y="894">Earth: 95mm²</text>
<text x="959" y="838">-</text><text x="959" y="856">-</text><text x="959" y="868">-</text>
<text x="122" y="1140">Note: Unless stated otherwise, active, neutral and earth conductors are all the same size.</text>
<text x="122" y="1150">Upstream LV Board Name:</text>
</g>
<g font-size="5" fill="#222" text-anchor="middle" font-weight="bold">
<text x="982" y="817">15 kA</text><text x="1031" y="817">9 Poles</text>
<text x="982" y="880">15 kA</text><text x="1031" y="880">3 Poles</text>
<text x="982" y="908">15 kA</text><text x="1031" y="908">24 Poles</text>
<text x="982" y="1061">15 kA</text><text x="1031" y="1061">12 Poles</text>
</g>
<g fill="#222" font-weight="bold">
<text x="170" y="778" font-size="7">SMSB-1</text>
<text x="170" y="818" font-size="7">A</text>
<text x="170" y="881" font-size="7">B</text>
<text x="170" y="909" font-size="7">Lighting Control Chassis</text>
<text x="170" y="1062" font-size="7">Controls Chassis</text>
<text x="161" y="1151" font-size="6.5">Western Power LV Kiosk</text>
</g>
</svg>
</body></html>
